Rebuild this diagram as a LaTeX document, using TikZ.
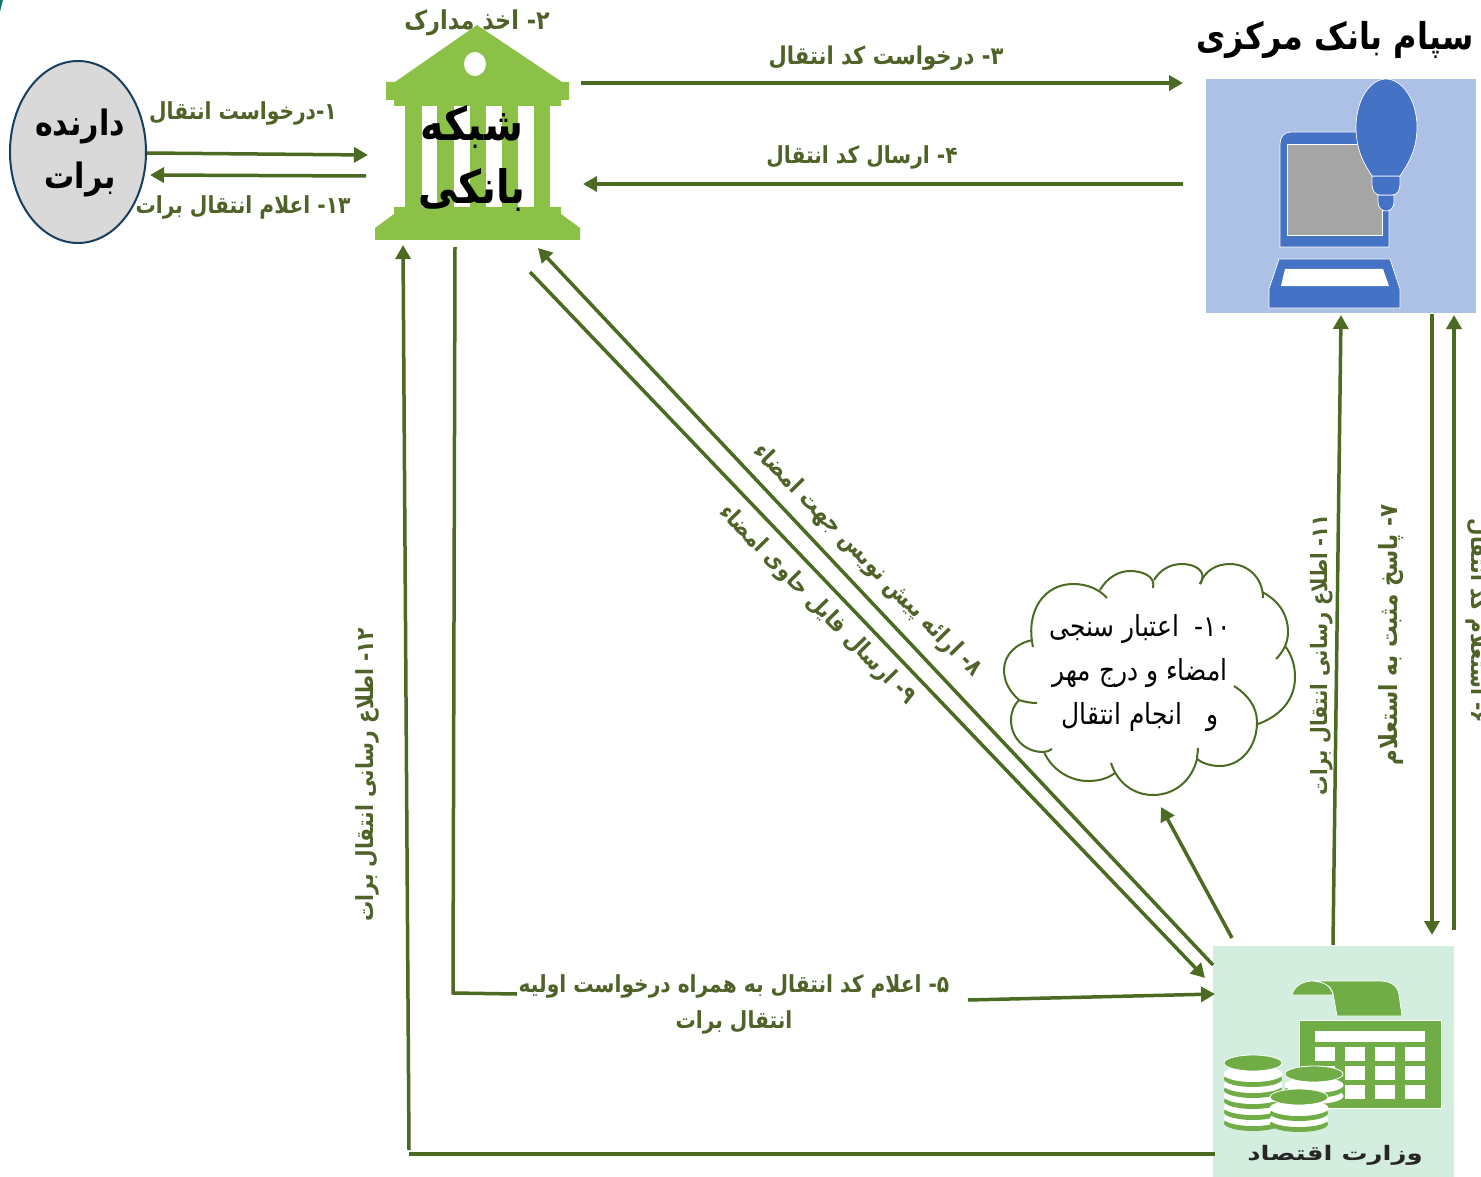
\documentclass[tikz,border=0pt]{standalone}
\usepackage{fontspec}
\usetikzlibrary{arrows.meta,shapes.geometric}
\TeXXeTstate=1
\newfontfamily\fa[Script=Arabic,FakeStretch=0.86]{DejaVu Sans}
\newfontfamily\fawide[Script=Arabic,FakeStretch=1.3]{DejaVu Sans}
\newcommand{\rl}[1]{\beginR #1\endR}
\newcommand{\fsz}[2]{\fontsize{#1}{#2}\selectfont}
\definecolor{lineg}{HTML}{4B6A22}
\definecolor{lblg}{HTML}{4F6228}
\definecolor{bankg}{HTML}{8BC147}
\definecolor{icong}{HTML}{70AD47}
\definecolor{cbbg}{HTML}{ADC0E6}
\definecolor{cbblue}{HTML}{4472C4}
\definecolor{moebg}{HTML}{D3EDDF}
\definecolor{holderedge}{HTML}{173E5F}
\definecolor{holderfill}{HTML}{D9D9D9}
\definecolor{screengray}{HTML}{A5A5A5}
\definecolor{moetext}{HTML}{262626}
\definecolor{cornerteal}{HTML}{0E7C66}
\tikzset{
  conn/.style={line width=3.5pt,color=lineg},
  arr/.style={conn,-{Triangle[length=14pt,width=15pt]}},
  lbl/.style={text=lblg,font=\fa\bfseries\fsz{23.5}{36},align=center,inner sep=0pt},
  head/.style={text=black,align=center,inner sep=0pt},
  cloudline/.style={lineg,line width=2pt},
  cbicon/.style={fill=cbblue,draw=white,line width=0.7pt}
}
\newcommand{\coinstack}[3]{%
  \foreach \o in {#3}{
    \fill[icong] (#1,#2+\o+5) ellipse [x radius=29pt,y radius=8pt];
    \fill[white] (#1,#2+\o) ellipse [x radius=29.5pt,y radius=8pt];
  }
  \fill[icong,draw=white,line width=0.8pt] (#1,#2) ellipse [x radius=29pt,y radius=8pt];
}
\begin{document}
\begin{tikzpicture}[x=1pt,y=-1pt]
\useasboundingbox (0,0) rectangle (1481,1177);
\fill[white] (0,0) rectangle (1481,1177);
\fill[cornerteal] (0,0) -- (3,0) -- (0,12) -- cycle;

% label under the roof
\node[lbl,font=\fa\bfseries\fsz{26}{36}] (l2) at (477,23) {\rl{۲- اخذ مدارک}};

% bank icon
\fill[bankg] (477,25) -- (562,82) -- (569,82) -- (569,100) -- (561,100) -- (561,106) -- (394,106) -- (394,100) -- (386,100) -- (386,82) -- (395,82) -- cycle;
\fill[white] (475,64) ellipse [x radius=11pt,y radius=12pt];
\foreach \a/\b in {405/422,437/454,470/486,502/518,534/550}
  \fill[bankg] (\a,105) rectangle (\b,208);
\fill[bankg] (394,207) -- (561,207) -- (561,214) -- (580,228) -- (580,240) -- (375,240) -- (375,228) -- (394,214) -- cycle;
\node[head,font=\fa\bfseries\fsz{46}{63}] (bank) at (472,159) {\rl{شبکه}\\\rl{بانکی}};

% holder
\node[ellipse,draw=holderedge,fill=holderfill,line width=2pt,minimum width=136pt,minimum height=182pt,inner sep=0pt] (holder) at (78,152) {};
\node[align=center,inner sep=0pt,font=\fa\bfseries\fsz{35}{53},text=black] (holdertxt) at (80,153) {\rl{دارنده}\\\rl{برات}};

% central bank
\node[fill=cbbg,inner sep=0pt,minimum width=270pt,minimum height=234pt] (cb) at (1340.5,196) {};
\draw[cbicon] (1280,247) -- (1280,144) .. controls (1280,137) and (1284,132) .. (1291,132) -- (1389,132) -- (1389,247) -- cycle;
\fill[screengray,draw=white,line width=0.7pt] (1287,144) rectangle (1382,235);
\draw[cbicon] (1279,259) -- (1390,259) -- (1400,289) -- (1400,308) -- (1269,308) -- (1269,289) -- cycle;
\fill[white] (1285,269) -- (1383,269) -- (1389,286) -- (1281,286) -- cycle;
\draw[cbicon] (1378,195) -- (1394,195) -- (1394,202) .. controls (1394,208) and (1390,211) .. (1386,211) .. controls (1382,211) and (1378,208) .. (1378,202) -- cycle;
\draw[cbicon] (1372,176) -- (1400,176) -- (1400,184) .. controls (1400,191) and (1397,195) .. (1392,195) -- (1380,195) .. controls (1375,195) and (1372,191) .. (1372,184) -- cycle;
\draw[cbicon] (1372,176) .. controls (1364,164) and (1356,150) .. (1356,127) .. controls (1356,100) and (1370,79) .. (1386,79) .. controls (1402,79) and (1417,100) .. (1417,127) .. controls (1417,150) and (1408,164) .. (1400,176) -- cycle;
\node[head,font=\fa\bfseries\fsz{37}{40}] (cbt) at (1335,40) {\rl{سپام بانک مرکزی}};

% ministry
\node[fill=moebg,inner sep=0pt,minimum width=241pt,minimum height=231pt] (moe) at (1333.5,1061.5) {};
\fill[icong,draw=white,line width=0.7pt] (1292,995) .. controls (1294,986) and (1303,981) .. (1313,981) .. controls (1324,981) and (1331,986) .. (1333,995) -- cycle;
\fill[icong,draw=white,line width=0.7pt] (1313,981) -- (1380,981) .. controls (1391,981) and (1398,986) .. (1399,995) -- (1402,1016) -- (1337,1016) -- (1333,993) .. controls (1331,986) and (1324,982) .. (1313,981) -- cycle;
\fill[icong,draw=white,line width=0.7pt] (1299,1020) rectangle (1441,1108);
\fill[white] (1315,1031) rectangle (1425,1042);
\foreach \x in {1315,1345,1375,1405}
  \foreach \y in {1047,1066,1085}
    \fill[white] (\x,\y) rectangle (\x+20,\y+14);
\coinstack{1253}{1063}{55,44,33,22,11}
\coinstack{1314}{1074}{22,11}
\coinstack{1299}{1097}{22,11}
\node[text=moetext,font=\fawide\bfseries\fsz{20}{20},inner sep=0pt] (moet) at (1335,1155) {\rl{وزارت اقتصاد}};

% cloud
\draw[cloudline] (1033,647) .. controls (1025,610) and (1045,584) .. (1073,584) .. controls (1087,584) and (1099,589) .. (1107,598);
\draw[cloudline] (1100,590) .. controls (1107,578) and (1118,571) .. (1130,571) .. controls (1142,571) and (1156,576) .. (1153,588);
\draw[cloudline] (1154,580) .. controls (1160,570) and (1170,564) .. (1182,564) .. controls (1196,564) and (1208,572) .. (1200,584);
\draw[cloudline] (1200,584) .. controls (1205,570) and (1217,564) .. (1230,564) .. controls (1248,564) and (1263,578) .. (1263,598);
\draw[cloudline] (1262,592) .. controls (1278,600) and (1288,614) .. (1288,632) .. controls (1288,642) and (1284,651) .. (1276,659);
\draw[cloudline] (1285,646) .. controls (1292,655) and (1295,666) .. (1295,677) .. controls (1295,700) and (1280,716) .. (1258,724);
\draw[cloudline] (1234,686) .. controls (1248,695) and (1257,707) .. (1257,722) .. controls (1257,748) and (1240,766) .. (1220,766) .. controls (1210,766) and (1202,763) .. (1197,759) .. controls (1197,755) and (1198,752) .. (1198,748);
\draw[cloudline] (1197,759) .. controls (1192,780) and (1175,795) .. (1153,795) .. controls (1133,795) and (1117,782) .. (1111,763);
\draw[cloudline] (1115,773) .. controls (1107,779) and (1098,781) .. (1088,781) .. controls (1070,781) and (1052,770) .. (1044,752);
\draw[cloudline] (1052,749) .. controls (1049,751) and (1046,752) .. (1043,752) .. controls (1025,752) and (1011,738) .. (1011,720) .. controls (1011,712) and (1014,705) .. (1019,700) .. controls (1025,702) and (1031,703) .. (1037,703);
\draw[cloudline] (1019,700) .. controls (1010,692) and (1004,682) .. (1004,670) .. controls (1004,655) and (1016,643) .. (1033,640);
\node[text=black,font=\fa\fsz{29}{44},align=center,inner sep=0pt] (cloud) at (1140,673) {\rl{۱۰-\ \ اعتبار سنجی}\\\rl{امضاء و درج مهر}\\\rl{و\ \ \ انجام انتقال}};

% end points
\coordinate (a1s) at (147,153); \coordinate (a1e) at (368,155);
\coordinate (a13s) at (366,176); \coordinate (a13e) at (150,175);
\coordinate (a3s) at (581,83); \coordinate (a3e) at (1183,83);
\coordinate (a4s) at (1183,184); \coordinate (a4e) at (583,184);
\coordinate (a5a) at (455,247); \coordinate (a5b) at (453,993); \coordinate (a5c) at (517,994);
\coordinate (a5d) at (968,1000); \coordinate (a5e) at (1215,994);
\coordinate (a8s) at (1213,965); \coordinate (a8e) at (538,248);
\coordinate (a9s) at (530,272); \coordinate (a9e) at (1205,978);
\coordinate (a10s) at (1232,938); \coordinate (a10e) at (1161,807);
\coordinate (a11s) at (1333,945); \coordinate (a11e) at (1341,315);
\coordinate (a7s) at (1432,314); \coordinate (a7e) at (1432,935);
\coordinate (a6s) at (1454,930); \coordinate (a6e) at (1454,315);
\coordinate (a12a) at (1215,1154); \coordinate (a12b) at (409,1154);
\coordinate (a12c) at (409,1150); \coordinate (a12d) at (403,245);

\draw[arr] (a1s) -- (a1e);
\draw[arr] (a13s) -- (a13e);
\draw[arr] (a3s) -- (a3e);
\draw[arr] (a4s) -- (a4e);
\draw[conn] (a5a) -- (a5b) -- (a5c);
\draw[arr] (a5d) -- (a5e);
\draw[arr] (a8s) -- (a8e);
\draw[arr] (a9s) -- (a9e);
\draw[arr] (a10s) -- (a10e);
\draw[arr] (a11s) -- (a11e);
\draw[arr] (a7s) -- (a7e);
\draw[arr] (a6s) -- (a6e);
\draw[conn] (a12a) -- (a12b);
\draw[arr] (a12c) -- (a12d);

% labels
\node[lbl] (l1) at (243,113) {\rl{۱-درخواست انتقال}};
\node[lbl] (l13) at (243,207) {\rl{۱۳- اعلام انتقال برات}};
\node[lbl,font=\fa\bfseries\fsz{24.5}{36}] (l3) at (886,58) {\rl{۳- درخواست کد انتقال}};
\node[lbl] (l4) at (862,157) {\rl{۴- ارسال کد انتقال}};
\node[lbl] (l5) at (734,1004) {\rl{۵- اعلام کد انتقال به همراه درخواست اولیه}\\\rl{انتقال برات}};
\node[lbl,rotate=-45.6,font=\fa\bfseries\fsz{24}{36}] (l8) at (867,561) {\rl{۸- ارائه پیش نویس جهت امضاء}};
\node[lbl,rotate=-45.6] (l9) at (817,605) {\rl{۹- ارسال فایل حاوی امضاء}};
\node[lbl,rotate=90] (l12) at (367,775) {\rl{۱۲- اطلاع رسانی انتقال برات}};
\node[lbl,rotate=90,font=\fa\bfseries\fsz{22.5}{36}] (l11) at (1322,655) {\rl{۱۱- اطلاع رسانی انتقال برات}};
\node[lbl,rotate=90,font=\fa\bfseries\fsz{25}{36}] (l7) at (1391,635) {\rl{۷- پاسخ مثبت به استعلام}};
\node[lbl,rotate=-90] (l6) at (1478,621) {\rl{۶- استعلام کد انتقال}};
\end{tikzpicture}
\end{document}
